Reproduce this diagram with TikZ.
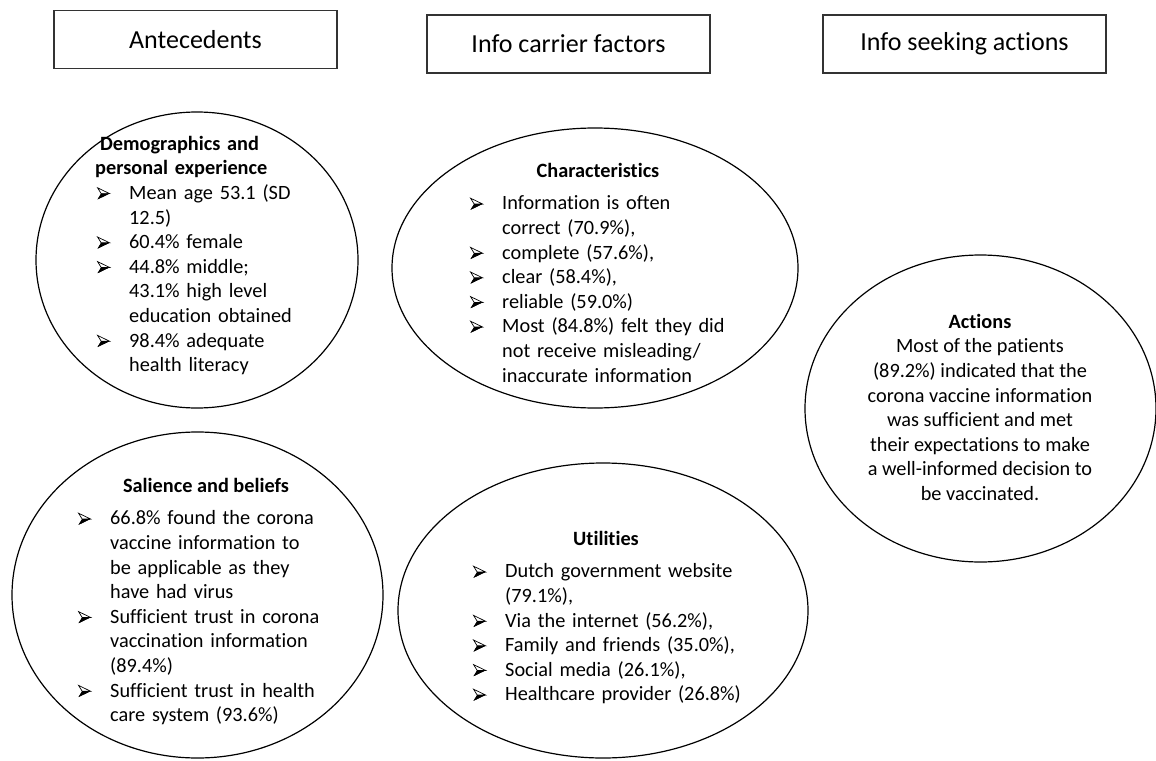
\documentclass[tikz,border=0pt]{standalone}
\usepackage{fontspec}
\setmainfont{Carlito}[Ligatures=NoCommon]
\usetikzlibrary{shapes.geometric}
\newcommand\bul{\tikz[baseline=0pt,x=1pt,y=1pt]{%
  \fill[black] (0,0) -- (12,5.8) -- (3.6,5.8) -- cycle;
  \draw[line width=0.7pt, line join=miter, fill=white] (0,11.6) -- (12,5.8) -- (3.6,5.8) -- cycle;
  \fill[black] (0,0) -- (12,5.8) -- (3.6,5.8) -- cycle;}}
\newcommand\fst{\rule{0pt}{17pt}}
\newcommand\bitem[1]{\par\noindent\hangindent=32pt\hangafter=1\makebox[32pt][l]{\fst\bul}#1\par}
\newcommand\bodyf{\fontsize{20.3}{24.6}\selectfont}
\tikzset{
  titlebox/.style={draw=black!80, line width=1.4pt, minimum width=283pt, minimum height=58pt,
    inner sep=0pt, font=\fontsize{26}{30}\selectfont},
  ell/.style={draw=black, line width=1.2pt, ellipse, inner sep=0pt},
  txt/.style={anchor=north west, inner sep=0pt, text width=330pt, font=\bodyf,
    execute at begin node={\raggedright\parindent=0pt\parskip=0pt}},
  head/.style={anchor=base, inner sep=0pt, font=\bodyf\bfseries}
}
\begin{document}
\begin{tikzpicture}[x=1pt,y=-1pt]
\useasboundingbox (0,0) rectangle (1156,760);
% titles
\node[titlebox] (t1) at (195.5,39.5) {Antecedents};
\node[titlebox] (t2) at (568.5,44) {Info carrier factors};
\node[titlebox] (t3) at (964.5,44) {Info seeking actions};
% ellipses
\node[ell, minimum width=322pt, minimum height=296pt] (e1) at (197,260) {};
\node[ell, minimum width=406pt, minimum height=280pt] (e2) at (595,268) {};
\node[ell, minimum width=371pt, minimum height=326pt] (e3) at (197.5,595) {};
\node[ell, minimum width=410pt, minimum height=295pt] (e4) at (603,610.5) {};
\node[ell, minimum width=351pt, minimum height=307pt] (e5) at (980.5,408.5) {};
% E1 text
\node[txt] (x1) at (97,133) {\noindent\fst\hspace*{3pt}\textbf{Demographics and}\newline\hspace*{-2pt}\textbf{personal experience}\par
\bitem{Mean age 53.1 (SD\newline 12.5)}
\bitem{60.4\% female}
\bitem{44.8\% middle;\newline 43.1\% high level\newline education obtained}
\bitem{98.4\% adequate\newline health literacy}};
% E2 text
\node[head] (h2) at (598,177) {Characteristics};
\node[txt] (x2) at (470,185) {\bitem{Information is often\newline correct (70.9\%),}
\bitem{complete (57.6\%),}
\bitem{clear (58.4\%),}
\bitem{reliable (59.0\%)}
\bitem{Most (84.8\%) felt they did\newline not receive misleading/\newline inaccurate information}};
% E3 text
\node[head] (h3) at (206,492) {Salience and beliefs};
\node[txt] (x3) at (78,500) {\bitem{66.8\% found the corona\newline vaccine information to\newline be applicable as they\newline have had virus}
\bitem{Sufficient trust in corona\newline vaccination information\newline (89.4\%)}
\bitem{Sufficient trust in health\newline care system (93.6\%)}};
% E4 text
\node[head] (h4) at (606,545) {Utilities};
\node[txt] (x4) at (473,553) {\bitem{Dutch government website\newline (79.1\%),}
\bitem{Via the internet (56.2\%),}
\bitem{Family and friends (35.0\%),}
\bitem{Social media (26.1\%),}
\bitem{Healthcare provider (26.8\%)}};
% E5 text
\node[anchor=north, inner sep=0pt, align=center, font=\bodyf] (x5) at (980,311)
 {\fst\textbf{Actions}\\Most of the patients\\(89.2\%) indicated that the\\corona vaccine information\\was sufficient and met\\their expectations to make\\a well-informed decision to\\be vaccinated.};
\end{tikzpicture}
\end{document}
